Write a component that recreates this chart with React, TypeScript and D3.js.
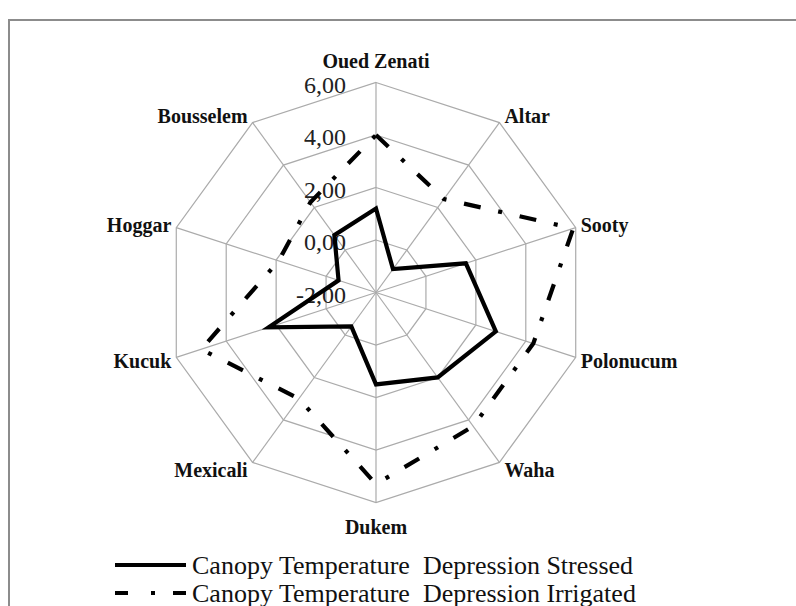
import React from 'react';
import * as d3 from 'd3';

const genotypes = ['Oued Zenati', 'Altar', 'Sooty', 'Polonucum', 'Waha', 'Dukem', 'Mexicali', 'Kucuk', 'Hoggar', 'Bousselem'];
const ctdStressed = [1.2, -0.9, 1.6, 2.8, 2.0, 1.5, -0.4, 2.3, -0.5, 0.7];
const ctdIrrigated = [4.0, 2.4, 5.9, 4.3, 4.3, 5.3, 3.0, 5.0, 1.9, 2.25];
const radialTicks = [-2, 0, 2, 4, 6];
const legendLabels = ['Canopy Temperature  Depression Stressed', 'Canopy Temperature  Depression Irrigated'];

const W = 796;
const H = 606;
const cx = 376;
const cy = 292.5;
const R = 210;
const serif = '"Liberation Serif", "Times New Roman", serif';

const fmt = d3.formatLocale({ decimal: ',', thousands: ' ', grouping: [3], currency: ['', ''], minus: '-' }).format('.2f');

export default function App() {
  const r = d3.scaleLinear().domain([-2, 6]).range([0, R]);
  const n = genotypes.length;
  const angle = d3.scaleLinear().domain([0, n]).range([0, 2 * Math.PI]);

  const radar = d3.lineRadial<number>()
    .angle((_, i) => angle(i))
    .radius(d => r(d))
    .curve(d3.curveLinearClosed);

  const ring = (v: number) => d3.lineRadial<string>()
    .angle((_, i) => angle(i))
    .radius(() => r(v))
    .curve(d3.curveLinearClosed)(genotypes) || '';

  const point = (i: number, rad: number) => {
    const a = angle(i);
    return [Math.sin(a) * rad, -Math.cos(a) * rad];
  };

  return (
    <svg width={W} height={H} style={{ position: 'absolute', left: 0, top: 0, background: '#fff' }}>
      <rect x={9} y={20} width={W} height={H} fill="none" stroke="#8c8c8c" strokeWidth={2} />
      <g transform={`translate(${cx},${cy})`}>
        {/* grid rings */}
        {radialTicks.slice(1).map(t => (
          <path key={t} d={ring(t)} fill="none" stroke="#ababab" strokeWidth={1.2} />
        ))}
        {/* spokes */}
        {genotypes.map((g, i) => {
          const [x, y] = point(i, R);
          return <line key={g} x1={0} y1={0} x2={x} y2={y} stroke="#ababab" strokeWidth={1.2} />;
        })}
        {/* tick labels */}
        {radialTicks.map(t => (
          <text key={t} x={-30} y={-r(t) + 2} textAnchor="end" dominantBaseline="central"
            fontFamily={serif} fontSize={24} fill="#222">{fmt(t)}</text>
        ))}
        {/* category labels */}
        {genotypes.map((g, i) => {
          const a = angle(i);
          const s = Math.sin(a);
          const c = Math.cos(a);
          const [x, y] = point(i, R);
          let anchor = 'middle';
          let dx = 0;
          let dy = 0;
          if (s > 0.1) { anchor = 'start'; dx = 5; dy = 7.5 - 9.3 * c; }
          else if (s < -0.1) { anchor = 'end'; dx = -5; dy = 7.5 - 9.3 * c; }
          else { dy = c > 0 ? -15 : 31; }
          return (
            <text key={g} x={x + dx} y={y + dy} textAnchor={anchor} fontFamily={serif}
              fontWeight="bold" fontSize={20} fill="#111">{g}</text>
          );
        })}
        <path d={radar(ctdIrrigated) || ''} fill="none" stroke="#000" strokeWidth={4.2}
          strokeDasharray="17 18 4 18" />
        <path d={radar(ctdStressed) || ''} fill="none" stroke="#000" strokeWidth={4.2} strokeLinejoin="miter" />
      </g>
      {/* legend */}
      <g>
        <line x1={115} x2={186} y1={565} y2={565} stroke="#000" strokeWidth={4.2} />
        <line x1={115} x2={186} y1={593} y2={593} stroke="#000" strokeWidth={4.2}
          strokeDasharray="13 23 4 18 13 100" />
        {legendLabels.map((l, i) => (
          <text key={l} x={192} y={565 + i * 28} dominantBaseline="central" fontFamily={serif}
            fontSize={26} fill="#111" style={{ whiteSpace: 'pre' }}>{l}</text>
        ))}
      </g>
    </svg>
  );
}
